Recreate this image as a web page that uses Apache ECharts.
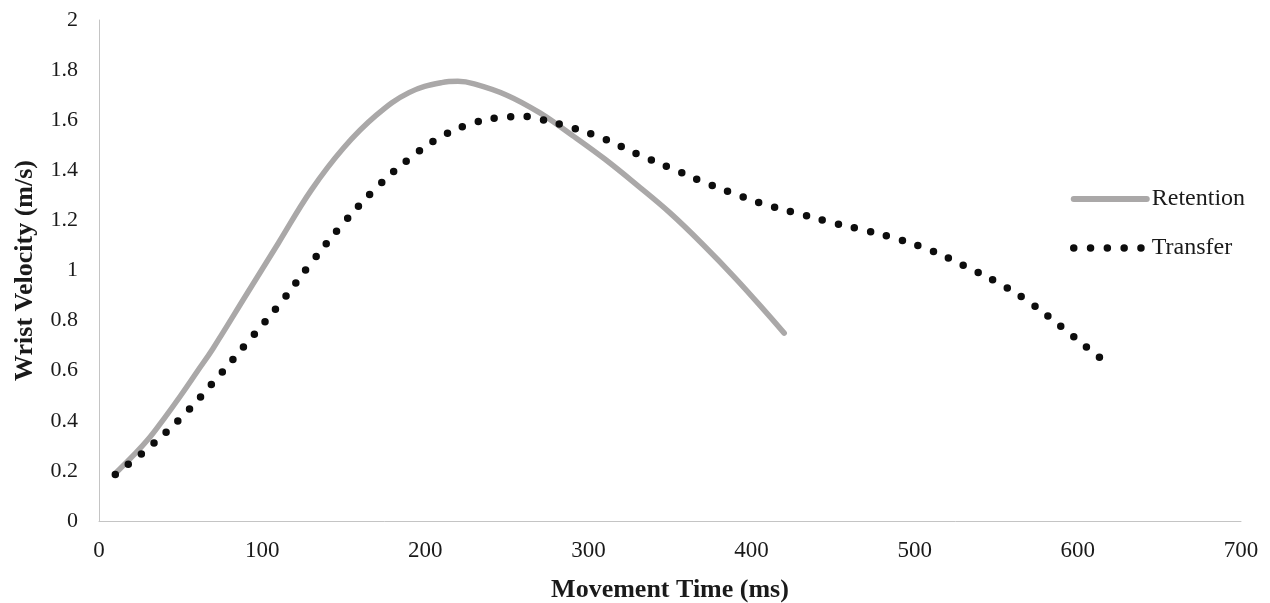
<!DOCTYPE html>
<html>
<head>
<meta charset="utf-8">
<script src="https://cdn.jsdelivr.net/npm/echarts@6/dist/echarts.min.js"></script>
<style>
  html, body { margin: 0; padding: 0; background: #fff; }
  #chart { width: 1270px; height: 603px; }
</style>
</head>
<body>
<div id="chart"></div>
<script>
// movement time (ms) / wrist velocity (m/s)
const retentionTime = [10, 20, 30, 40, 50, 60, 70, 90, 110, 130, 150, 170, 190, 210, 220, 230, 250, 270, 290, 310, 330, 350, 370, 390, 410, 420]
const retentionVel = [0.19, 0.255, 0.325, 0.41, 0.50, 0.595, 0.69, 0.90, 1.11, 1.32, 1.49, 1.62, 1.71, 1.75, 1.755, 1.745, 1.70, 1.63, 1.54, 1.445, 1.34, 1.23, 1.105, 0.97, 0.825, 0.75]

const transferTime = [10, 30, 50, 70, 90, 110, 130, 150, 170, 190, 210, 230, 250, 260, 270, 290, 310, 330, 350, 370, 390, 410, 430, 450, 470, 490, 510, 530, 550, 570, 590, 610, 620]
const transferVel = [0.186, 0.29, 0.41, 0.553, 0.706, 0.86, 1.03, 1.19, 1.33, 1.445, 1.535, 1.59, 1.613, 1.615, 1.605, 1.57, 1.525, 1.465, 1.41, 1.355, 1.305, 1.26, 1.225, 1.19, 1.16, 1.125, 1.08, 1.02, 0.955, 0.875, 0.775, 0.67, 0.62]

const seriesNames = ['Retention', 'Transfer']
const xTitle = 'Movement Time (ms)'
const yTitle = 'Wrist Velocity (m/s)'

const FONT = '"Liberation Serif", "Times New Roman", serif'
const TEXT = '#1a1a1a'
const AXIS = '#c4c4c4'
const GREY = '#aaa8a8'
const DOTS = '#0d0d0d'

const zip = (xs, ys) => xs.map((x, i) => [x, ys[i]])

const chart = echarts.init(document.getElementById('chart'))

chart.setOption({
  animation: false,
  textStyle: { fontFamily: FONT, color: TEXT },
  grid: { left: 99, right: 29, top: 20, bottom: 82, containLabel: false, outerBoundsMode: 'none' },
  legend: {
    orient: 'vertical',
    left: 1070,
    top: 187,
    padding: 0,
    itemWidth: 73,
    itemHeight: 14,
    itemGap: 25,
    itemStyle: { opacity: 0 },
    textStyle: { fontFamily: FONT, fontSize: 24, color: TEXT },
    data: [
      { name: seriesNames[0], lineStyle: { width: 6, color: GREY }, itemStyle: { opacity: 0 } },
      { name: seriesNames[1], lineStyle: { width: 7.5, color: DOTS, type: [0, 16.8], cap: 'round' }, itemStyle: { opacity: 0 } }
    ]
  },
  xAxis: {
    type: 'value',
    min: 0,
    max: 700,
    interval: 100,
    name: xTitle,
    nameLocation: 'middle',
    nameGap: 56,
    nameTextStyle: { fontFamily: FONT, fontSize: 26, fontWeight: 'bold', color: TEXT },
    axisLine: { show: true, lineStyle: { color: AXIS, width: 1 } },
    axisTick: { show: false },
    splitLine: { show: false },
    axisLabel: { fontFamily: FONT, fontSize: 23, color: TEXT, margin: 18 }
  },
  yAxis: {
    type: 'value',
    min: 0,
    max: 2,
    interval: 0.2,
    name: yTitle,
    nameLocation: 'middle',
    nameGap: 61,
    nameTextStyle: { fontFamily: FONT, fontSize: 26, fontWeight: 'bold', color: TEXT },
    axisLine: { show: true, lineStyle: { color: AXIS, width: 1 } },
    axisTick: { show: false },
    splitLine: { show: false },
    axisLabel: { fontFamily: FONT, fontSize: 22, color: TEXT, margin: 21 }
  },
  series: [
    {
      name: seriesNames[0],
      type: 'line',
      data: zip(retentionTime, retentionVel),
      smooth: 0.4,
      symbol: 'none',
      lineStyle: { color: GREY, width: 5.5, cap: 'round' },
      itemStyle: { color: GREY }
    },
    {
      name: seriesNames[1],
      type: 'line',
      data: zip(transferTime, transferVel),
      smooth: 0.4,
      symbol: 'none',
      lineStyle: { color: DOTS, width: 7.5, cap: 'round', type: [0, 16.5] },
      itemStyle: { color: DOTS }
    }
  ]
})
</script>
</body>
</html>
